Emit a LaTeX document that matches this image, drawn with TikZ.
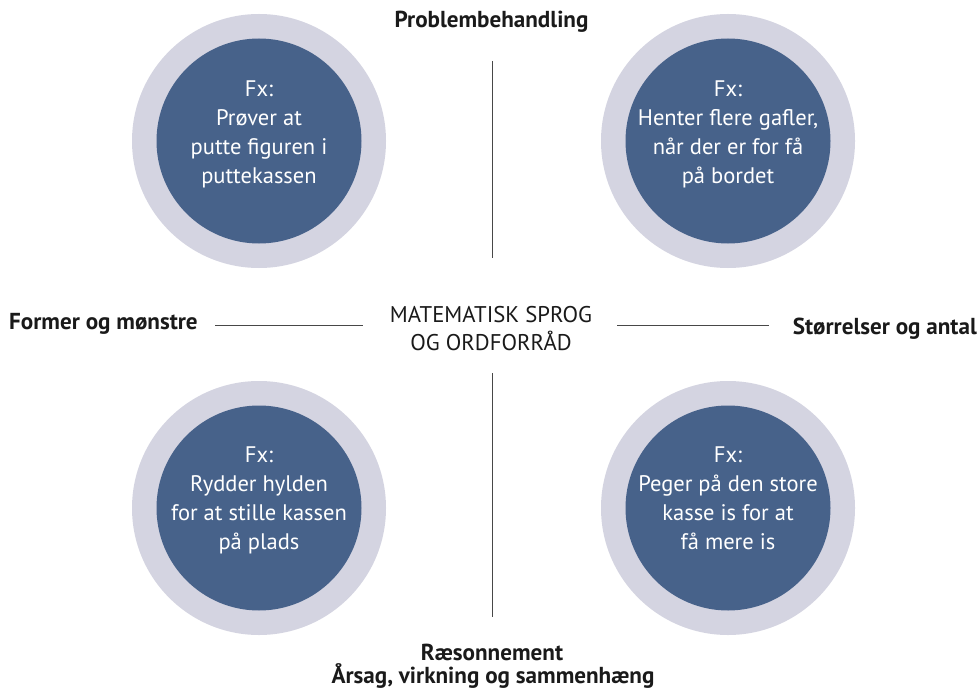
\documentclass[tikz,border=0pt]{standalone}
\usepackage{fontspec}
\setmainfont{PT Sans}
\definecolor{ringcol}{RGB}{212,212,225}
\definecolor{corecol}{RGB}{71,98,138}
\definecolor{inkcol}{RGB}{26,26,26}
\begin{document}
\begin{tikzpicture}[x=1bp,y=-1bp,
  ring/.style={circle,fill=ringcol,minimum size=254bp,inner sep=0pt},
  core/.style={circle,fill=corecol,minimum size=205bp,inner sep=0pt},
  coretext/.style={align=center,text=white,font=\fontsize{22.6}{29}\selectfont,inner sep=0pt},
  label/.style={inner sep=0pt,text=inkcol,font=\fontsize{23.2}{24}\selectfont\bfseries},
  mid/.style={inner sep=0pt,align=center,text=inkcol,font=\fontsize{22.8}{28}\selectfont},
  rule/.style={draw=inkcol!80,line width=0.9bp}]
\useasboundingbox[fill=white] (0,0) rectangle (978,691);
% circles
\node[ring] (tlr) at (259,141) {};
\node[core] (tlc) at (259,141) {};
\node[ring] (trr) at (728,141) {};
\node[core] (trc) at (728,141) {};
\node[ring] (blr) at (259,508) {};
\node[core] (blc) at (259,508) {};
\node[ring] (brr) at (728,508) {};
\node[core] (brc) at (728,508) {};
\node[coretext] (tlt) at (259,134.5) {Fx:\\Prøver at\\putte figuren i\\puttekassen};
\node[coretext] (trt) at (728,134.5) {Fx:\\Henter flere gafler,\\når der er for få\\på bordet};
\node[coretext] (blt) at (259,500.5) {Fx:\\Rydder hylden\\for at stille kassen\\på plads};
\node[coretext] (brt) at (728,498.5) {Fx:\\Peger på den store\\kasse is for at\\få mere is};
% labels
\node[label,anchor=base] (top) at (491.5,28) {Problembehandling};
\node[label,anchor=base west] (left) at (9,329) {Former og mønstre};
\node[label,anchor=base east] (right) at (977,334) {Størrelser og antal};
\node[label,anchor=base] (bottom1) at (492,660) {Ræsonnement};
\node[label,anchor=base] (bottom2) at (493,683) {Årsag, virkning og sammenhæng};
\node[mid] (center) at (491,328.5) {MATEMATISK SPROG\\OG ORDFORRÅD};
% rules
\coordinate (v1a) at (492,61);
\coordinate (v1b) at (492,258);
\coordinate (v2a) at (492,373);
\coordinate (v2b) at (492,617);
\coordinate (h1a) at (215,325);
\coordinate (h1b) at (363,325);
\coordinate (h2a) at (617,325);
\coordinate (h2b) at (769,325);
\draw[rule] (v1a) -- (v1b);
\draw[rule] (v2a) -- (v2b);
\draw[rule] (h1a) -- (h1b);
\draw[rule] (h2a) -- (h2b);
\end{tikzpicture}
\end{document}
